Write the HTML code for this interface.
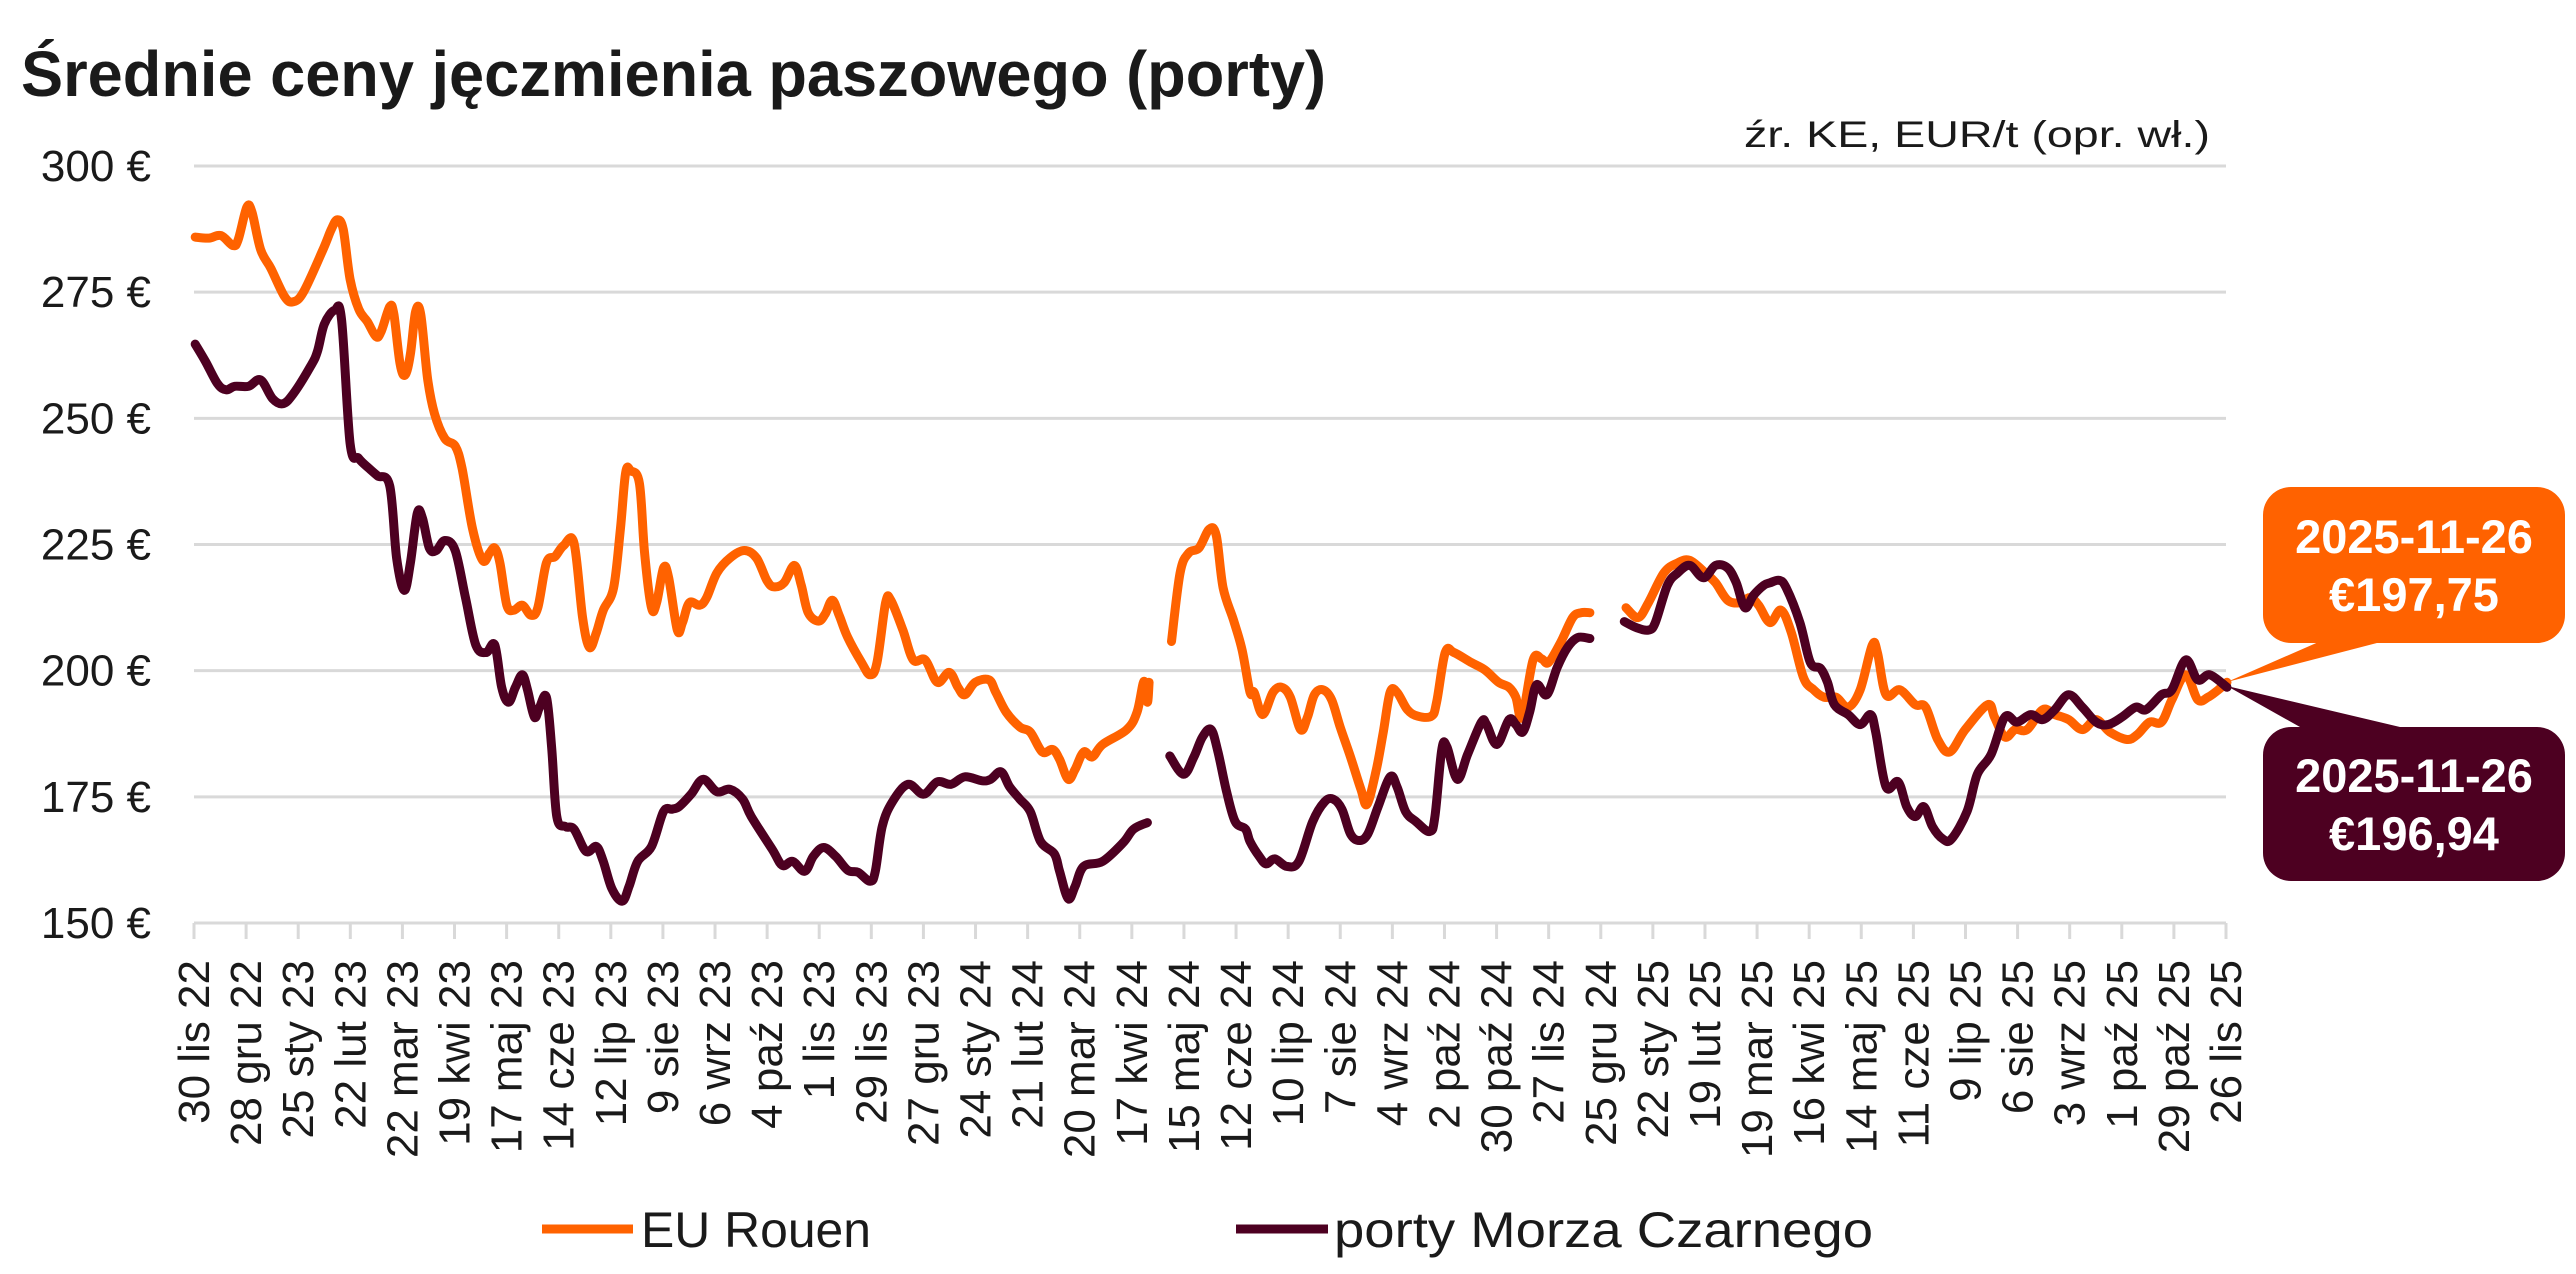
<!DOCTYPE html>
<html><head><meta charset="utf-8"><style>
html,body{margin:0;padding:0;background:#fff;}
svg{display:block;font-family:"Liberation Sans",sans-serif;}
</style></head><body>
<svg id="c" width="2576" height="1274" viewBox="0 0 2576 1274" xmlns="http://www.w3.org/2000/svg">
<text x="21" y="96" font-size="64" font-weight="bold" fill="#1a1a1a" textLength="1305" lengthAdjust="spacingAndGlyphs">Średnie ceny jęczmienia paszowego (porty)</text>
<text x="1744" y="147" font-size="37" fill="#1a1a1a" textLength="466" lengthAdjust="spacingAndGlyphs">źr. KE,  EUR/t (opr. wł.)</text>
<g id="grid" stroke="#d9d9d9" stroke-width="3"></g>
<g id="ylab" font-size="44" fill="#1a1a1a" text-anchor="end"></g>
<g id="xlab" font-size="44" fill="#1a1a1a"></g>
<g id="lines" fill="none" stroke-width="9" stroke-linejoin="round" stroke-linecap="round"></g>
<polygon points="2227,682 2330,637 2400,637" fill="#ff6200"/>
<rect x="2263" y="487" width="302" height="156" rx="28" fill="#ff6200"/>
<text x="2414" y="553" font-size="47" font-weight="bold" fill="#fff" text-anchor="middle">2025-11-26</text>
<text x="2414" y="611" font-size="47" font-weight="bold" fill="#fff" text-anchor="middle">€197,75</text>
<polygon points="2227,686 2300,727 2400,727" fill="#4d0021"/>
<rect x="2263" y="727" width="302" height="154" rx="28" fill="#4d0021"/>
<text x="2414" y="792" font-size="47" font-weight="bold" fill="#fff" text-anchor="middle">2025-11-26</text>
<text x="2414" y="850" font-size="47" font-weight="bold" fill="#fff" text-anchor="middle">€196,94</text>
<line x1="542" y1="1229" x2="633" y2="1229" stroke="#ff6200" stroke-width="9"/>
<text x="641" y="1247" font-size="50" fill="#1a1a1a" textLength="230" lengthAdjust="spacingAndGlyphs">EU Rouen</text>
<line x1="1236" y1="1229" x2="1328" y2="1229" stroke="#4d0021" stroke-width="9"/>
<text x="1334" y="1247" font-size="50" fill="#1a1a1a" textLength="539" lengthAdjust="spacingAndGlyphs">porty Morza Czarnego</text>
</svg>
<script>
var NS="http://www.w3.org/2000/svg";
function el(t,a,p,txt){var e=document.createElementNS(NS,t);for(var k in a)e.setAttribute(k,a[k]);if(txt)e.textContent=txt;p.appendChild(e);return e;}
var L=194,R=2226,Y=function(v){return 166+(300-v)*757/150;};
var grid=document.getElementById('grid'),yl=document.getElementById('ylab'),xl=document.getElementById('xlab');
for(var v=150;v<=300;v+=25){el('line',{x1:L,x2:R,y1:Y(v),y2:Y(v)},grid);el('text',{x:151,y:Y(v)+15},yl,v+' €');}
var labs=["30 lis 22","28 gru 22","25 sty 23","22 lut 23","22 mar 23","19 kwi 23","17 maj 23","14 cze 23","12 lip 23","9 sie 23","6 wrz 23","4 paź 23","1 lis 23","29 lis 23","27 gru 23","24 sty 24","21 lut 24","20 mar 24","17 kwi 24","15 maj 24","12 cze 24","10 lip 24","7 sie 24","4 wrz 24","2 paź 24","30 paź 24","27 lis 24","25 gru 24","22 sty 25","19 lut 25","19 mar 25","16 kwi 25","14 maj 25","11 cze 25","9 lip 25","6 sie 25","3 wrz 25","1 paź 25","29 paź 25","26 lis 25"];
for(var i=0;i<labs.length;i++){var x=L+i*(R-L)/39;el('line',{x1:x,x2:x,y1:923,y2:939},grid);
el('text',{transform:'translate('+(x+15)+',960) rotate(-90)','text-anchor':'end'},xl,labs[i]);}
var C={4:190,5:710,6:1230,7:1750};
function tr(z,pts){var o=[];for(var i=0;i<pts.length;i+=2)o.push([C[z]+pts[i]/2.9037,160+pts[i+1]/2.0103]);return o;}
function seg(chunks){var out=[];chunks.forEach(function(c){tr(c[0],c[1]).forEach(function(p){if(!out.length||p[0]>out[out.length-1][0]+1.5)out.push(p);});});return out;}
function path(p){var d='M'+p[0][0].toFixed(1)+','+p[0][1].toFixed(1);for(var i=0;i<p.length-1;i++){var p0=p[i-1]||p[i],p1=p[i],p2=p[i+1],p3=p[i+2]||p2;var t=0.17;
d+='C'+(p1[0]+(p2[0]-p0[0])*t).toFixed(1)+','+(p1[1]+(p2[1]-p0[1])*t).toFixed(1)+' '+(p2[0]-(p3[0]-p1[0])*t).toFixed(1)+','+(p2[1]-(p3[1]-p1[1])*t).toFixed(1)+' '+p2[0].toFixed(1)+','+p2[1].toFixed(1);}return d;}
var O1=seg([[4,[15,155,55,157,90,152,125,172,140,160,165,95,180,105,205,180,235,218,275,275,300,285,330,265,385,182,410,140,428,120,445,140,465,240,490,300,515,325,540,355,555,345,580,295,592,310,610,410,625,432,640,390,655,305,670,310,690,440,710,510,740,560,770,575,790,620,820,740,850,805,870,790,885,780,900,810,920,895,940,905,965,895,990,915,1010,900,1035,810,1060,797,1085,775,1115,770,1140,920,1160,980,1180,950,1200,905,1230,860,1250,740,1265,628,1280,625,1305,650,1320,790,1340,900,1355,890,1375,820,1390,840,1415,945,1430,930,1450,890,1480,895,1500,880,1530,830,1568,800]],
[5,[0,880,30,835,60,815,100,785,135,800,165,845,185,858,215,850,245,815,265,855,285,910,315,927,335,912,355,885,375,915,400,960,440,1010,465,1035,485,1010,510,890,525,885,560,945,590,1005,625,1005,660,1050,695,1030,720,1060,740,1075,770,1050,810,1045,830,1070,860,1110,900,1140,930,1150,965,1190,995,1185,1015,1205,1040,1245,1060,1225,1085,1190,1110,1200,1140,1175,1210,1145,1240,1110,1260,1048,1270,1090,1275,1050]]]);
var O2=seg([[5,[1340,968,1365,830,1390,790,1420,780,1450,742,1470,755,1490,860,1520,925,1545,985,1568,1070]],
[6,[0,880,25,930,40,980,70,1070,95,1115,125,1070,150,1060,175,1080,205,1145,225,1120,245,1075,270,1065,295,1085,320,1140,350,1200,380,1265,398,1295,425,1225,445,1150,465,1070,485,1070,515,1105,545,1118,585,1118,600,1090,625,990,650,990,700,1010,740,1025,780,1050,810,1060,830,1080,848,1120,880,1005,905,1003,925,1010,960,970,995,920,1020,910,1045,910]]]);
var O3=seg([[6,[1150,900,1185,920,1215,890,1260,830,1300,810,1335,805,1380,830,1410,850,1445,885,1480,890,1510,880,1535,895,1568,930]],
[7,[20,880,55,925,90,905,120,950,155,1040,185,1065,215,1080,250,1080,285,1100,320,1065,355,975,370,990,395,1075,435,1065,480,1095,510,1100,545,1165,580,1190,625,1145,690,1095,710,1120,740,1160,770,1145,805,1145,850,1105,885,1115,925,1125,965,1145,1005,1125,1045,1150,1095,1165,1125,1155,1160,1130,1195,1130,1225,1085,1265,1035,1300,1085,1330,1080,1360,1065,1385,1050]]]);
var D1=seg([[4,[15,370,45,405,80,450,105,462,130,455,170,455,205,442,240,480,270,490,300,470,350,415,370,385,390,330,420,302,440,320,465,570,490,600,520,620,545,635,580,655,600,800,622,865,640,810,660,710,675,720,695,780,715,785,740,765,770,785,800,880,830,975,860,990,885,975,905,1060,925,1090,945,1060,965,1035,980,1065,1000,1120,1015,1100,1035,1080,1050,1180,1065,1320,1090,1340,1115,1345,1150,1390,1180,1380,1200,1410,1225,1465,1255,1490,1275,1460,1300,1410,1340,1380,1375,1310,1400,1305,1420,1300,1455,1275,1490,1245,1530,1270,1568,1265]],
[5,[0,1248,25,1268,60,1268,95,1285,120,1320,180,1385,210,1418,240,1410,275,1430,300,1400,330,1382,365,1400,400,1428,430,1432,465,1450,480,1430,500,1340,530,1290,575,1255,620,1275,660,1250,700,1255,740,1240,790,1248,815,1245,845,1230,870,1260,900,1285,930,1310,960,1370,1000,1395,1015,1430,1040,1485,1060,1460,1085,1420,1140,1410,1200,1372,1230,1345,1270,1332]]]);
var D2=seg([[5,[1335,1198,1375,1235,1405,1200,1430,1160,1455,1145,1475,1190,1500,1270,1525,1330,1555,1345,1568,1370]],
[6,[0,1250,15,1305,35,1330,55,1340,85,1400,105,1415,130,1405,165,1420,200,1410,240,1330,275,1290,300,1285,325,1305,350,1355,375,1368,400,1355,430,1300,465,1240,485,1260,510,1310,540,1330,580,1350,595,1320,615,1185,630,1180,660,1245,690,1195,730,1130,745,1135,775,1175,810,1125,830,1135,850,1150,870,1110,890,1055,920,1075,950,1020,980,980,1010,960,1045,962]]]);
var D3=seg([[6,[1145,928,1180,940,1215,945,1235,930,1270,855,1300,830,1335,815,1375,840,1410,815,1445,820,1470,850,1495,900,1520,875,1550,855,1568,850]],
[7,[20,865,50,850,85,845,105,860,145,930,175,1010,205,1022,225,1050,245,1095,285,1115,320,1135,350,1115,365,1150,395,1260,430,1250,455,1300,480,1320,505,1300,530,1340,560,1365,585,1365,630,1310,660,1235,700,1195,740,1120,775,1130,815,1115,850,1125,885,1105,925,1075,965,1100,1005,1130,1040,1135,1080,1120,1120,1100,1150,1105,1195,1075,1225,1065,1265,1005,1300,1045,1335,1035,1385,1060]]]);
var g=document.getElementById('lines');
[O1,O2,O3].forEach(function(p){el('path',{d:path(p),stroke:'#ff6200'},g);});
[D1,D2,D3].forEach(function(p){el('path',{d:path(p),stroke:'#4d0021'},g);});
</script>
</body></html>
